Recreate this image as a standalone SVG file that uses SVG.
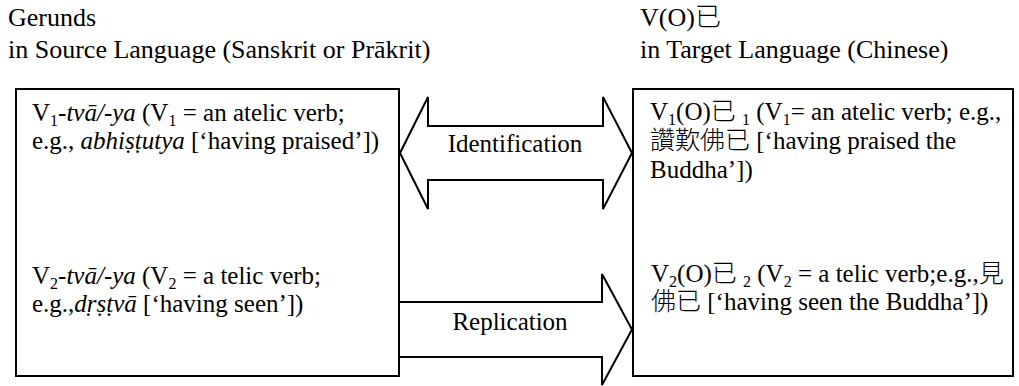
<svg xmlns="http://www.w3.org/2000/svg" width="1019" height="386" viewBox="0 0 1019 386" font-family="'Liberation Serif', 'Noto Sans CJK TC', serif">
<style>
.h{font-size:26px}
.t{font-size:25px}
.i{font-style:italic}
.s{font-size:16px}
.c{font-weight:300}
.box{fill:#fff;stroke:#000;stroke-width:2}
.arr{fill:#fff;stroke:#000;stroke-width:2;stroke-linejoin:miter}
</style>
<rect width="1019" height="386" fill="#fff"/>
<g id="header-source">
<text class="h" x="8" y="26">Gerunds</text>
<text class="h" x="8" y="58">in Source Language (Sanskrit or Prākrit)</text>
</g>
<g id="header-target">
<text class="h" x="640" y="26">V(O)<tspan class="c">已</tspan></text>
<text class="h" x="640" y="58">in Target Language (Chinese)</text>
</g>
<g id="connectors">
<polygon class="arr" points="400,153 428,97 428,126 603,126 603,97 632,153 603,209 603,180 428,180 428,209"/>
<text class="t" x="515" y="152" text-anchor="middle">Identification</text>
<polygon class="arr" points="399,302 602,302 602,274 632,329.5 602,385 602,357 399,357"/>
<text class="t" x="510" y="330" text-anchor="middle">Replication</text>
</g>
<g id="source-box">
<rect class="box" x="16" y="89" width="383" height="287"/>
<text class="t" x="32" y="121">V<tspan class="s" dy="5">1</tspan><tspan class="i" dy="-5">-tvā/-ya</tspan> (V<tspan class="s" dy="5">1</tspan><tspan dy="-5"> = an atelic verb;</tspan></text>
<text class="t" x="32" y="149">e.g., <tspan class="i">abhiṣṭutya</tspan> [‘having praised’])</text>
<text class="t" x="32" y="284">V<tspan class="s" dy="5">2</tspan><tspan class="i" dy="-5">-tvā/-ya</tspan> (V<tspan class="s" dy="5">2</tspan><tspan dy="-5"> = a telic verb;</tspan></text>
<text class="t" x="32" y="312">e.g.,<tspan class="i">dṛṣṭvā</tspan> [‘having seen’])</text>
</g>
<g id="target-box">
<rect class="box" x="633" y="89" width="380" height="287"/>
<text class="t" x="650" y="120">V<tspan class="s" dy="5">1</tspan><tspan dy="-5">(O)</tspan><tspan class="c">已</tspan> <tspan class="s" dy="5">1</tspan><tspan dy="-5"> (V</tspan><tspan class="s" dy="5">1</tspan><tspan dy="-5">= an atelic verb; e.g.,</tspan></text>
<text class="t" x="650" y="149"><tspan class="c">讚歎佛已</tspan> [‘having praised the</text>
<text class="t" x="650" y="178">Buddha’])</text>
<text class="t" x="651" y="282">V<tspan class="s" dy="5">2</tspan><tspan dy="-5">(O)</tspan><tspan class="c">已</tspan> <tspan class="s" dy="5">2</tspan><tspan dy="-5"> (V</tspan><tspan class="s" dy="5">2</tspan><tspan dy="-5"> = a telic verb;e.g.,</tspan><tspan class="c">見</tspan></text>
<text class="t" x="651" y="310"><tspan class="c">佛已</tspan> [‘having seen the Buddha’])</text>
</g>
</svg>
